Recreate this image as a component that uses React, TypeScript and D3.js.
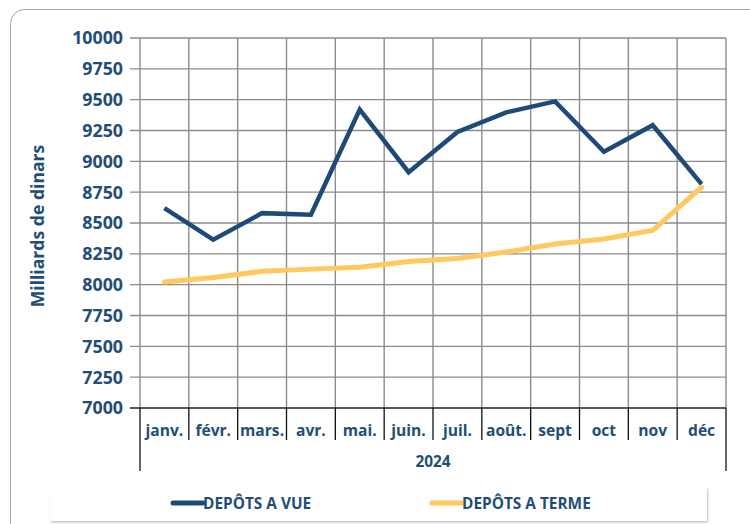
import { useEffect, useRef } from "react";
import * as d3 from "d3";

const months = ["janv.", "févr.", "mars.", "avr.", "mai.", "juin.", "juil.", "août.", "sept", "oct", "nov", "déc"];
const depotsVue = [8620, 8365, 8580, 8567, 9420, 8912, 9238, 9397, 9486, 9078, 9293, 8815];
const depotsTerme = [8022, 8058, 8108, 8126, 8142, 8188, 8212, 8265, 8330, 8370, 8440, 8790];
const yTicks = [7000, 7250, 7500, 7750, 8000, 8250, 8500, 8750, 9000, 9250, 9500, 9750, 10000];
const yearLabel = "2024";
const seriesNames = ["DEPÔTS A VUE", "DEPÔTS A TERME"];

const W = 750;
const H = 524;
const BLUE = "#1d4a78";
const YELLOW = "#ffc95e";
const TEXT = "#1f4e79";
const FONT = "'Open Sans', sans-serif";

const App = () => {
  const ref = useRef<SVGSVGElement | null>(null);

  useEffect(() => {
    if (!ref.current) return;
    const svg = d3.select(ref.current);
    svg.selectAll("*").remove();

    const left = 140, right = 726, top = 38, bottom = 408;

    const x = d3.scaleBand<string>().domain(months).range([left, right]);
    const y = d3.scaleLinear().domain([7000, 10000]).range([bottom, top]);

    // outer frame
    svg.append("rect")
      .attr("x", 10.5).attr("y", 9.5)
      .attr("width", 760).attr("height", 540)
      .attr("rx", 14)
      .attr("fill", "#fff")
      .attr("stroke", "#a6a6a6")
      .attr("stroke-width", 1);

    // horizontal grid
    svg.append("g").selectAll("line").data(yTicks.filter(t => t !== 7000)).join("line")
      .attr("x1", left - 10).attr("x2", right)
      .attr("y1", d => y(d)).attr("y2", d => y(d))
      .attr("stroke", "#8c8c8c").attr("stroke-width", 1.4);

    // vertical grid
    const edges = months.map(m => x(m)!).concat([right]);
    svg.append("g").selectAll("line").data(edges).join("line")
      .attr("x1", d => d).attr("x2", d => d)
      .attr("y1", top).attr("y2", bottom)
      .attr("stroke", "#8c8c8c").attr("stroke-width", 1.4);

    // x axis line
    svg.append("line")
      .attr("x1", left - 10).attr("x2", right)
      .attr("y1", bottom).attr("y2", bottom)
      .attr("stroke", "#222").attr("stroke-width", 1.5);

    // category dividers
    svg.append("g").selectAll("line").data(edges).join("line")
      .attr("x1", d => d).attr("x2", d => d)
      .attr("y1", bottom)
      .attr("y2", (d, i) => (i === 0 || i === edges.length - 1 ? 471 : 440))
      .attr("stroke", "#111").attr("stroke-width", 1.3);

    // y tick labels
    svg.append("g").selectAll("text").data(yTicks).join("text")
      .attr("x", 123).attr("y", d => y(d))
      .attr("dy", "0.36em")
      .attr("text-anchor", "end")
      .attr("font-family", FONT).attr("font-weight", 700).attr("font-size", 17.8)
      .attr("fill", TEXT)
      .text(d => d);

    // month labels
    svg.append("g").selectAll("text").data(months).join("text")
      .attr("x", d => x(d)! + x.bandwidth() / 2).attr("y", 430)
      .attr("dy", "0.36em")
      .attr("text-anchor", "middle")
      .attr("font-family", FONT).attr("font-weight", 700).attr("font-size", 15.6)
      .attr("fill", TEXT)
      .text(d => d);

    svg.append("text")
      .attr("x", (left + right) / 2).attr("y", 461)
      .attr("dy", "0.36em")
      .attr("text-anchor", "middle")
      .attr("font-family", FONT).attr("font-weight", 700).attr("font-size", 15.4)
      .attr("fill", TEXT)
      .text(yearLabel);

    // y axis title
    svg.append("text")
      .attr("transform", `translate(38,${(top + bottom) / 2 + 3}) rotate(-90)`)
      .attr("dy", "0.36em")
      .attr("text-anchor", "middle")
      .attr("font-family", FONT).attr("font-weight", 700).attr("font-size", 17.6)
      .attr("fill", TEXT)
      .text("Milliards de dinars");

    const line = d3.line<number>()
      .x((_, i) => x(months[i])! + x.bandwidth() / 2)
      .y(d => y(d));

    svg.append("path").datum(depotsTerme)
      .attr("d", line)
      .attr("fill", "none").attr("stroke", YELLOW)
      .attr("stroke-width", 5).attr("stroke-linejoin", "round").attr("stroke-linecap", "round");

    svg.append("path").datum(depotsVue)
      .attr("d", line)
      .attr("fill", "none").attr("stroke", BLUE)
      .attr("stroke-width", 4.5).attr("stroke-linejoin", "miter").attr("stroke-linecap", "butt");

    // legend
    const defs = svg.append("defs");
    const f = defs.append("filter").attr("id", "sh").attr("x", "-5%").attr("y", "-20%").attr("width", "110%").attr("height", "150%");
    f.append("feDropShadow").attr("dx", 1).attr("dy", 1.5).attr("stdDeviation", 1.2).attr("flood-color", "#000").attr("flood-opacity", 0.25);

    svg.append("rect")
      .attr("x", 50).attr("y", 487)
      .attr("width", 657).attr("height", 34)
      .attr("fill", "#fff")
      .attr("filter", "url(#sh)");

    const legendX = [173, 432];
    const colors = [BLUE, YELLOW];
    const lg = svg.append("g").selectAll("g").data(seriesNames).join("g")
      .attr("transform", (_, i) => `translate(${legendX[i]},503)`);
    lg.append("line")
      .attr("x1", 0).attr("x2", 30).attr("y1", 0).attr("y2", 0)
      .attr("stroke", (_, i) => colors[i]).attr("stroke-width", 5).attr("stroke-linecap", "round");
    lg.append("text")
      .attr("x", 30).attr("y", 0).attr("dy", "0.36em")
      .attr("font-family", FONT).attr("font-weight", 700).attr("font-size", 15.4)
      .attr("fill", TEXT)
      .text(d => d);
  }, []);

  return (
    <div style={{ position: "absolute", left: 0, top: 0, width: W, height: H, background: "#fff" }}>
      <svg ref={ref} width={W} height={H} style={{ display: "block" }} />
    </div>
  );
};

export default App;
